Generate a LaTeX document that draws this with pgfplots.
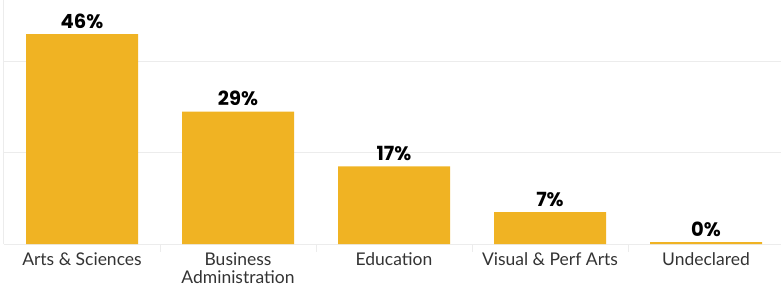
\documentclass[border=0pt]{standalone}
\usepackage{pgfplots}
\pgfplotsset{compat=1.18}
\usepackage{fontspec}
\setmainfont{Lato}
\newfontfamily\valfont{Poppins}
\definecolor{gold}{RGB}{240,179,35}
\definecolor{gridc}{RGB}{236,236,236}
\definecolor{labc}{RGB}{51,51,51}
\begin{document}
\begin{tikzpicture}[x=1pt,y=1pt]
\path[use as bounding box] (0,0) rectangle (781,289);
\begin{axis}[
  at={(4pt,45pt)}, anchor=south west,
  scale only axis, width=780pt, height=244pt,
  xmin=-0.5, xmax=4.5, ymin=0, ymax=53.5,
  axis x line*=bottom, axis y line*=left,
  axis line style={draw=gridc, line width=1pt},
  ytick={20,40}, yticklabels={}, ymajorgrids,
  grid style={draw=gridc, line width=1pt},
  xtick={0,1,2,3,4},
  xticklabels={Arts \& Sciences,{Business\\Administration},Education,Visual \& Perf Arts,Undeclared},
  minor xtick={0.5,1.5,2.5,3.5},
  tick pos=bottom, tick align=outside,
  major tick length=0pt, minor tick length=8pt,
  minor tick style={draw=gridc, line width=1pt},
  major tick style={draw=none},
  xticklabel style={font=\fontsize{17.5}{18.5}\selectfont, text=labc, align=center, yshift=-5pt},
  clip=false,
  point meta=explicit,
  nodes near coords={\pgfmathprintnumber[assume math mode=true]{\pgfplotspointmeta}\%},
  every node near coord/.append style={font=\valfont\bfseries\fontsize{19.5}{22}\selectfont, text=black, yshift=2pt},
]
\addplot[ybar, bar width=112pt, bar shift=0pt, fill=gold, draw=none] coordinates {
  (0,46) [46]
  (1,29) [29]
  (2,17) [17]
  (3,7) [7]
  (4,0.4) [0]
};
\end{axis}
\end{tikzpicture}
\end{document}
